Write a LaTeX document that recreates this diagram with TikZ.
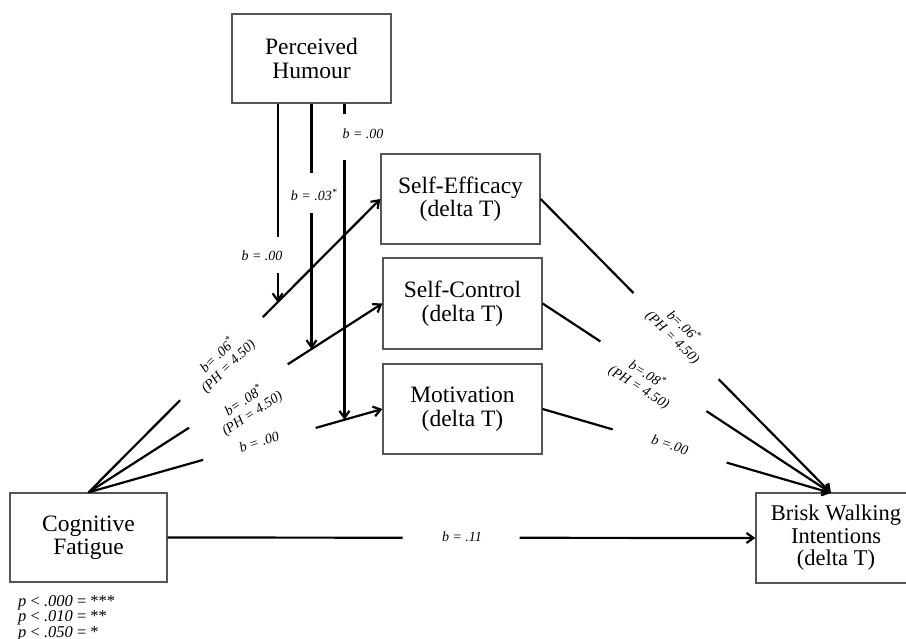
\documentclass[tikz,border=0pt]{standalone}
\usepackage{fontspec}
\setmainfont{Liberation Serif}
\usetikzlibrary{arrows.meta,calc}
\definecolor{boxgray}{HTML}{555555}
\begin{document}
\begin{tikzpicture}[x=1pt,y=-1pt,
  box/.style={draw=boxgray,line width=1.3pt,fill=white,inner sep=0pt,align=center,
              font=\fontsize{23.5}{23.5}\selectfont},
  conn/.style={line width=2.2pt,black},
  arr/.style={conn,-{Straight Barb[length=7pt,width=10pt]}},
  lab/.style={font=\fontsize{14}{15}\selectfont\itshape,align=center,inner sep=1pt},
]
\useasboundingbox (0,0) rectangle (906,638);

% boxes
\node[box,minimum width=159pt,minimum height=89pt] (PH) at (311.5,58.5) {Perceived\\Humour};
\node[box,minimum width=159pt,minimum height=90pt] (SE) at (460.5,199) {Self-Efficacy\\(delta T)};
\node[box,minimum width=159pt,minimum height=91pt] (SC) at (462.5,303.5) {Self-Control\\(delta T)};
\node[box,minimum width=159pt,minimum height=90pt] (MO) at (462.5,409) {Motivation\\(delta T)};
\node[box,minimum width=157pt,minimum height=89pt] (CF) at (88.5,537.5) {Cognitive\\Fatigue};
\node[box,minimum width=160pt,minimum height=90pt,font=\fontsize{22.5}{22.5}\selectfont] (BW) at (836,538) {Brisk Walking\\Intentions\\(delta T)};
\coordinate (bwt) at (831,493);

% left fan: Cognitive Fatigue -> mediators
\draw[conn] (CF.north) -- ($(CF.north)!0.314!(SE.west)$);
\draw[arr] ($(CF.north)!0.597!(SE.west)$) -- (SE.west);
\draw[conn] (CF.north) -- ($(CF.north)!0.342!(SC.west)$);
\draw[arr] ($(CF.north)!0.678!(SC.west)$) -- (SC.west);
\draw[conn] (CF.north) -- ($(CF.north)!0.39!(MO.west)$);
\draw[arr] ($(CF.north)!0.773!(MO.west)$) -- (MO.west);

% moderation arrows from Perceived Humour
\coordinate (a1) at ($(CF.north)!0.648!(SE.west)$);
\coordinate (b1) at ($(CF.north)!0.759!(SC.west)$);
\coordinate (c1) at ($(CF.north)!0.871!(MO.west)$);
\draw[conn] (a1 |- PH.south) -- (a1 |- 0,237);
\draw[arr] (a1 |- 0,273) -- (a1);
\draw[conn] (b1 |- PH.south) -- (b1 |- 0,173);
\draw[arr] (b1 |- 0,213) -- (b1);
\draw[conn] (c1 |- PH.south) -- (c1 |- 0,114);
\draw[arr] (c1 |- 0,160) -- (c1);

% right fan: mediators -> Brisk Walking
\draw[conn] (SE.east) -- ($(SE.east)!0.32!(bwt)$);
\draw[arr] ($(SE.east)!0.613!(bwt)$) -- (bwt);
\draw[conn] (SC.east) -- ($(SC.east)!0.20!(bwt)$);
\draw[arr] ($(SC.east)!0.568!(bwt)$) -- (bwt);
\draw[conn] (MO.east) -- ($(MO.east)!0.243!(bwt)$);
\draw[arr] ($(MO.east)!0.638!(bwt)$) -- (bwt);

% direct path
\draw[conn] (CF.east) -- ($(CF.east)!0.40!(BW.west)$);
\draw[arr] ($(CF.east)!0.599!(BW.west)$) -- (BW.west);

% labels
\node[lab] (lA) at (262,256) {b = .00};
\node[lab] (lB) at (314,195) {b = .03\textsuperscript{*}};
\node[lab] (lC) at (363,134) {b = .00};
\node[lab,rotate=44] (l1) at (223,361) {b= .06\textsuperscript{*}\\(PH = 4.50)};
\node[lab,rotate=33] (l2) at (248,407) {b= .08\textsuperscript{*}\\(PH = 4.50)};
\node[lab,rotate=18] (l3) at (259,442) {b = .00};
\node[lab,rotate=-44] (r1) at (678,332) {b=.06\textsuperscript{*}\\(PH = 4.50)};
\node[lab,rotate=-32] (r2) at (643,381) {b=.08\textsuperscript{*}\\(PH = 4.50)};
\node[lab,rotate=-18] (r3) at (670,445) {b =.00};
\node[lab] (lD) at (462,537) {b = .11};

% legend
\node[anchor=north west,inner sep=0pt,align=left,font=\fontsize{16.5}{15.5}\selectfont] (leg) at (18,595)
  {\textit{p} < \textit{.000} = ***\\\textit{p} < \textit{.010} = **\\\textit{p} < \textit{.050} = *};
\end{tikzpicture}
\end{document}
